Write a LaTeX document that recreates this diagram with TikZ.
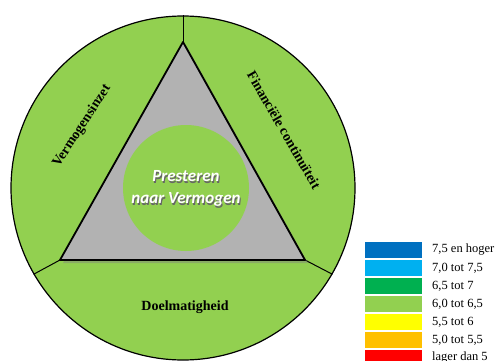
\documentclass[tikz,border=0pt]{standalone}
\usepackage{fontspec}
\setmainfont{Liberation Serif}
\newfontfamily\calibri{Carlito}
\usetikzlibrary{shadows}
\definecolor{leafgreen}{HTML}{92D050}
\definecolor{tribgray}{HTML}{B2B2B2}
\definecolor{legdarkblue}{HTML}{0070C0}
\definecolor{leglightblue}{HTML}{00B0F0}
\definecolor{legdarkgreen}{HTML}{00B050}
\definecolor{legyellow}{HTML}{FFFF00}
\definecolor{legorange}{HTML}{FFC000}
\definecolor{legred}{HTML}{FF0000}
\tikzset{
  pillar/.style={font=\bfseries\fontsize{14}{16}\selectfont, inner sep=0pt},
  legtext/.style={anchor=west, inner sep=0pt, font=\fontsize{12.5}{14}\selectfont}
}
\begin{document}
\begin{tikzpicture}[x=1pt,y=-1pt]
  \useasboundingbox (0,0) rectangle (495,361);
  % outer ring
  \node[circle, draw, line width=1.2pt, fill=leafgreen, inner sep=0pt, minimum size=344pt] (ring) at (183,188) {};
  \coordinate (apex) at (183,42);
  \coordinate (left) at (60,260);
  \coordinate (right) at (305,260);
  \draw[line width=1pt] (apex) -- (ring.90);
  \draw[line width=1pt] (left) -- (ring.210);
  \draw[line width=1pt] (right) -- (ring.-30);
  % triangle
  \filldraw[fill=tribgray, line width=1.8pt, line join=round,
    drop shadow={shadow xshift=3pt, shadow yshift=-3pt, opacity=.45}]
    (apex) -- (left) -- (right) -- cycle;
  % core
  \node[circle, fill=leafgreen, inner sep=0pt, minimum size=126pt] (core) at (186,188) {};
  \node[text=black!60, align=center, font=\calibri\bfseries\itshape\fontsize{17}{22}\selectfont] (coretextshadow) at (187,190) {Presteren\\naar Vermogen};
  \node[text=white, align=center, font=\calibri\bfseries\itshape\fontsize{17}{22}\selectfont] (coretext) at (core) {Presteren\\naar Vermogen};
  % pillars
  \node[pillar, rotate=57] (inzet) at (82,126) {Vermogensinzet};
  \node[pillar, rotate=-60] (continuiteit) at (284,130) {Financiële continuïteit};
  \node[pillar] (doelmatig) at (185,307) {Doelmatigheid};
  % legend
  \foreach \i/\col/\lab in {0/legdarkblue/{7,5 en hoger}, 1/leglightblue/{7,0 tot 7,5},
      2/legdarkgreen/{6,5 tot 7}, 3/leafgreen/{6,0 tot 6,5}, 4/legyellow/{5,5 tot 6},
      5/legorange/{5,0 tot 5,5}, 6/legred/{lager dan 5}} {
    \fill[\col] (365,242+18*\i) rectangle (422,258+18*\i);
    \node[legtext] (leg\i) at (432,250+18*\i) {\lab};
  }
\end{tikzpicture}
\end{document}
